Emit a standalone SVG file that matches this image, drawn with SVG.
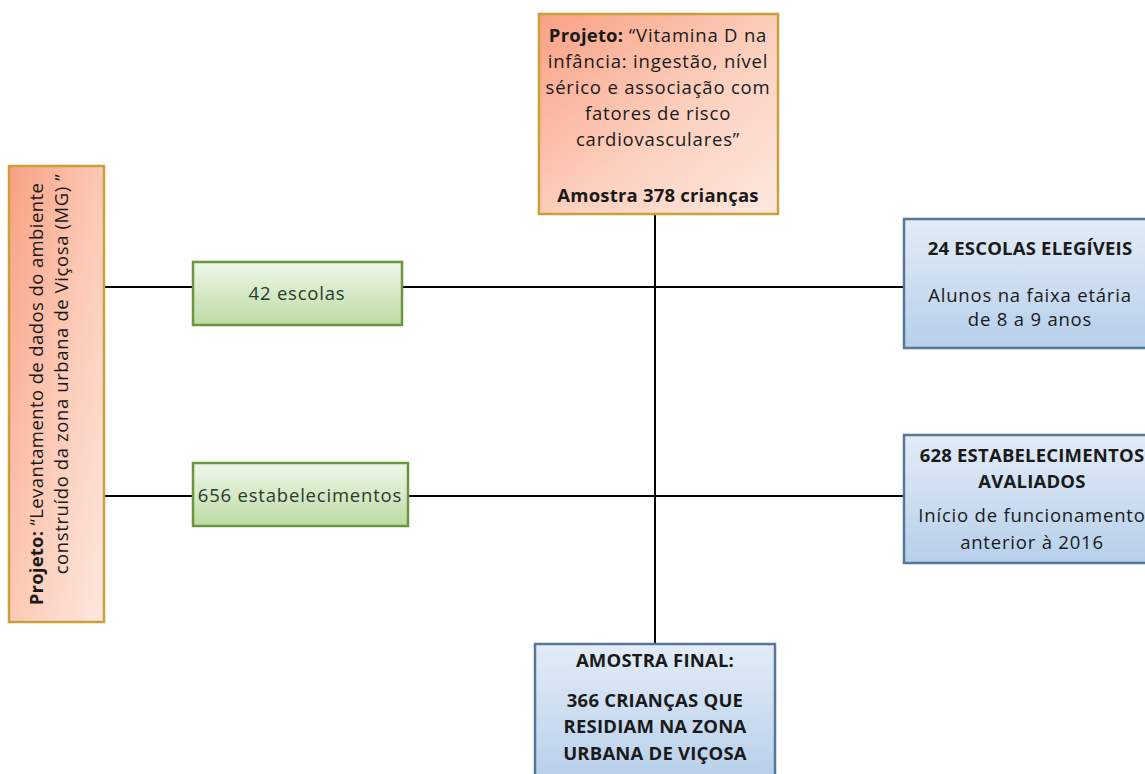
<svg xmlns="http://www.w3.org/2000/svg" width="1145" height="774" viewBox="0 0 1145 774">
<defs>
<linearGradient id="gOr" x1="0" y1="0" x2="1" y2="1"><stop offset="0" stop-color="#f9a184"/><stop offset="0.55" stop-color="#fcd0bf"/><stop offset="1" stop-color="#fde8df"/></linearGradient>
<linearGradient id="gOrL" x1="0" y1="0" x2="1" y2="1"><stop offset="0" stop-color="#f9a184"/><stop offset="0.5" stop-color="#fcc9b5"/><stop offset="1" stop-color="#fde8df"/></linearGradient>
<linearGradient id="gGr" x1="0" y1="0" x2="0" y2="1"><stop offset="0" stop-color="#eff7ea"/><stop offset="1" stop-color="#bcdba3"/></linearGradient>
<linearGradient id="gBl" x1="0" y1="0" x2="0" y2="1"><stop offset="0" stop-color="#e3ecf7"/><stop offset="1" stop-color="#b6cfea"/></linearGradient>
<style>
text{font-family:"Open Sans","Noto Sans","Liberation Sans",sans-serif;fill:#1a1a1a;text-anchor:middle;font-size:18.5px;letter-spacing:0.8px}
.b{font-weight:bold;letter-spacing:0.2px}
.or{fill:url(#gOr);stroke:#c9a03a;stroke-width:2.5}
.gr{fill:url(#gGr);stroke:#6a963c;stroke-width:2.5}
.bl{fill:url(#gBl);stroke:#56779c;stroke-width:2.5}
.ln{stroke:#000;stroke-width:2;fill:none}
.g{fill:#2b3a2b}
</style>
</defs>
<g id="connectors">
<line class="ln" x1="655" y1="214" x2="655" y2="644"/>
<line class="ln" x1="104" y1="287" x2="904" y2="287"/>
<line class="ln" x1="104" y1="496" x2="904" y2="496"/>
</g>
<g id="top">
<rect class="or" x="539" y="14" width="239" height="200"/>
<text x="658" y="42"><tspan class="b">Projeto:</tspan> “Vitamina D na</text>
<text x="658" y="68">infância: ingestão, nível</text>
<text x="658" y="94">sérico e associação com</text>
<text x="658" y="120">fatores de risco</text>
<text x="658" y="146">cardiovasculares”</text>
<text x="658" y="202" class="b">Amostra 378 crianças</text>
</g>
<g id="left">
<rect style="fill:url(#gOrL);stroke:#c9a03a;stroke-width:2.5" x="9" y="166" width="95" height="456"/>
<text transform="translate(43,394) rotate(-90)" style="letter-spacing:0.4px"><tspan class="b">Projeto:</tspan> “Levantamento de dados do ambiente</text>
<text transform="translate(68,374) rotate(-90)" style="letter-spacing:0.6px">construído da zona urbana de Viçosa (MG) ”</text>
</g>
<g id="escolas42">
<rect class="gr" x="193" y="262" width="209" height="63"/>
<text x="297" y="300" class="g">42 escolas</text>
</g>
<g id="estab656">
<rect class="gr" x="193" y="463" width="215" height="63"/>
<text x="300" y="502" class="g">656 estabelecimentos</text>
</g>
<g id="escolas24">
<rect class="bl" x="904" y="219" width="252" height="129"/>
<text x="1030" y="255" class="b">24 ESCOLAS ELEGÍVEIS</text>
<text x="1030" y="302">Alunos na faixa etária</text>
<text x="1030" y="326">de 8 a 9 anos</text>
</g>
<g id="estab628">
<rect class="bl" x="904" y="435" width="252" height="128"/>
<text x="1032" y="462" class="b">628 ESTABELECIMENTOS</text>
<text x="1032" y="488" class="b">AVALIADOS</text>
<text x="1032" y="522">Início de funcionamento</text>
<text x="1032" y="549">anterior à 2016</text>
</g>
<g id="final">
<rect class="bl" x="535" y="644" width="240" height="140"/>
<text x="655" y="667" class="b">AMOSTRA FINAL:</text>
<text x="655" y="707" class="b">366 CRIANÇAS QUE</text>
<text x="655" y="733" class="b">RESIDIAM NA ZONA</text>
<text x="655" y="760" class="b">URBANA DE VIÇOSA</text>
</g>
</svg>
